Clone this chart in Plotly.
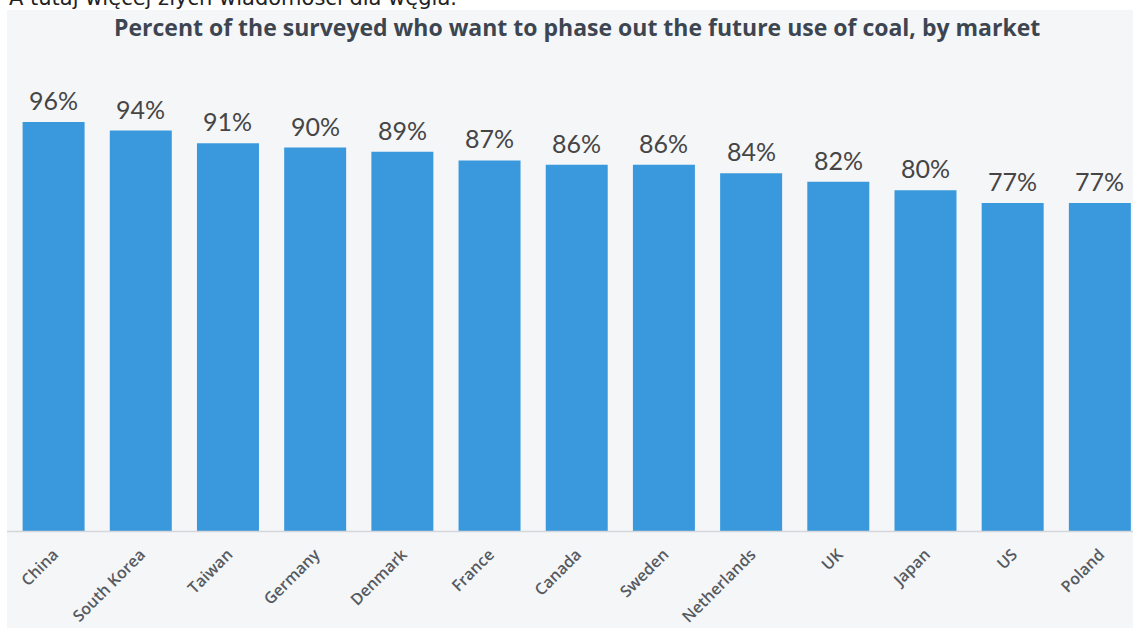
import plotly.graph_objects as go

markets = ["China", "South Korea", "Taiwan", "Germany", "Denmark", "France", "Canada",
           "Sweden", "Netherlands", "UK", "Japan", "US", "Poland"]
percent = [96, 94, 91, 90, 89, 87, 86, 86, 84, 82, 80, 77, 77]
labels = [f"{v}%" for v in percent]

W, H = 1133, 628
L, R, T, B = 10, 0, 105, 97
ph = H - T - B
pw = W - L - R

def py(px):
    return (H - B - px) / ph

def pxx(px):
    return (px - L) / pw

fig = go.Figure()
fig.add_trace(go.Bar(
    x=markets, y=percent,
    marker=dict(color="#3a99dd", line=dict(width=0)),
    hoverinfo="skip",
))

value_annotations = [
    dict(x=m, y=v, text=t, xref="x", yref="y", xanchor="center", yanchor="bottom",
         yshift=5, showarrow=False,
         font=dict(family="Lato, Open Sans, sans-serif", size=25, color="#454545"))
    for m, v, t in zip(markets, percent, labels)
]

fig.update_layout(
    width=W, height=H,
    margin=dict(l=L, r=R, t=T, b=B, pad=0),
    paper_bgcolor="#ffffff", plot_bgcolor="rgba(0,0,0,0)",
    bargap=0.289, showlegend=False,
    xaxis=dict(range=[-0.5, 12.38], showgrid=False, zeroline=False, showline=False,
               ticks="", tickangle=-45, ticklabelstandoff=10,
               tickfont=dict(family="Open Sans, sans-serif", size=16, color="#555a60", weight=600)),
    yaxis=dict(range=[0, 100], visible=False, showgrid=False),
    shapes=[
        dict(type="rect", xref="paper", yref="paper", x0=pxx(7), x1=pxx(W + 5),
             y0=py(H + 5), y1=py(10), fillcolor="#f5f6f8", line=dict(width=0), layer="below"),
        dict(type="line", xref="paper", yref="paper", x0=pxx(7), x1=pxx(W),
             y0=py(531.5), y1=py(531.5), line=dict(color="#d4d6d9", width=1.5), layer="above"),
    ],
    annotations=[
        dict(text="A tutaj więcej złych wiadomości dla węgla.", xref="paper", yref="paper",
             x=pxx(7), y=py(12), xanchor="left", yanchor="bottom", showarrow=False,
             font=dict(family="DejaVu Sans", size=21, color="#222222")),
        dict(text="Percent of the surveyed who want to phase out the future use of coal, by market",
             xref="paper", yref="paper", x=pxx(577), y=py(27), xanchor="center", yanchor="middle",
             showarrow=False,
             font=dict(family="Open Sans, sans-serif", size=23, color="#3d4650", weight=700)),
    ] + value_annotations,
)

fig.write_html("out.html")
